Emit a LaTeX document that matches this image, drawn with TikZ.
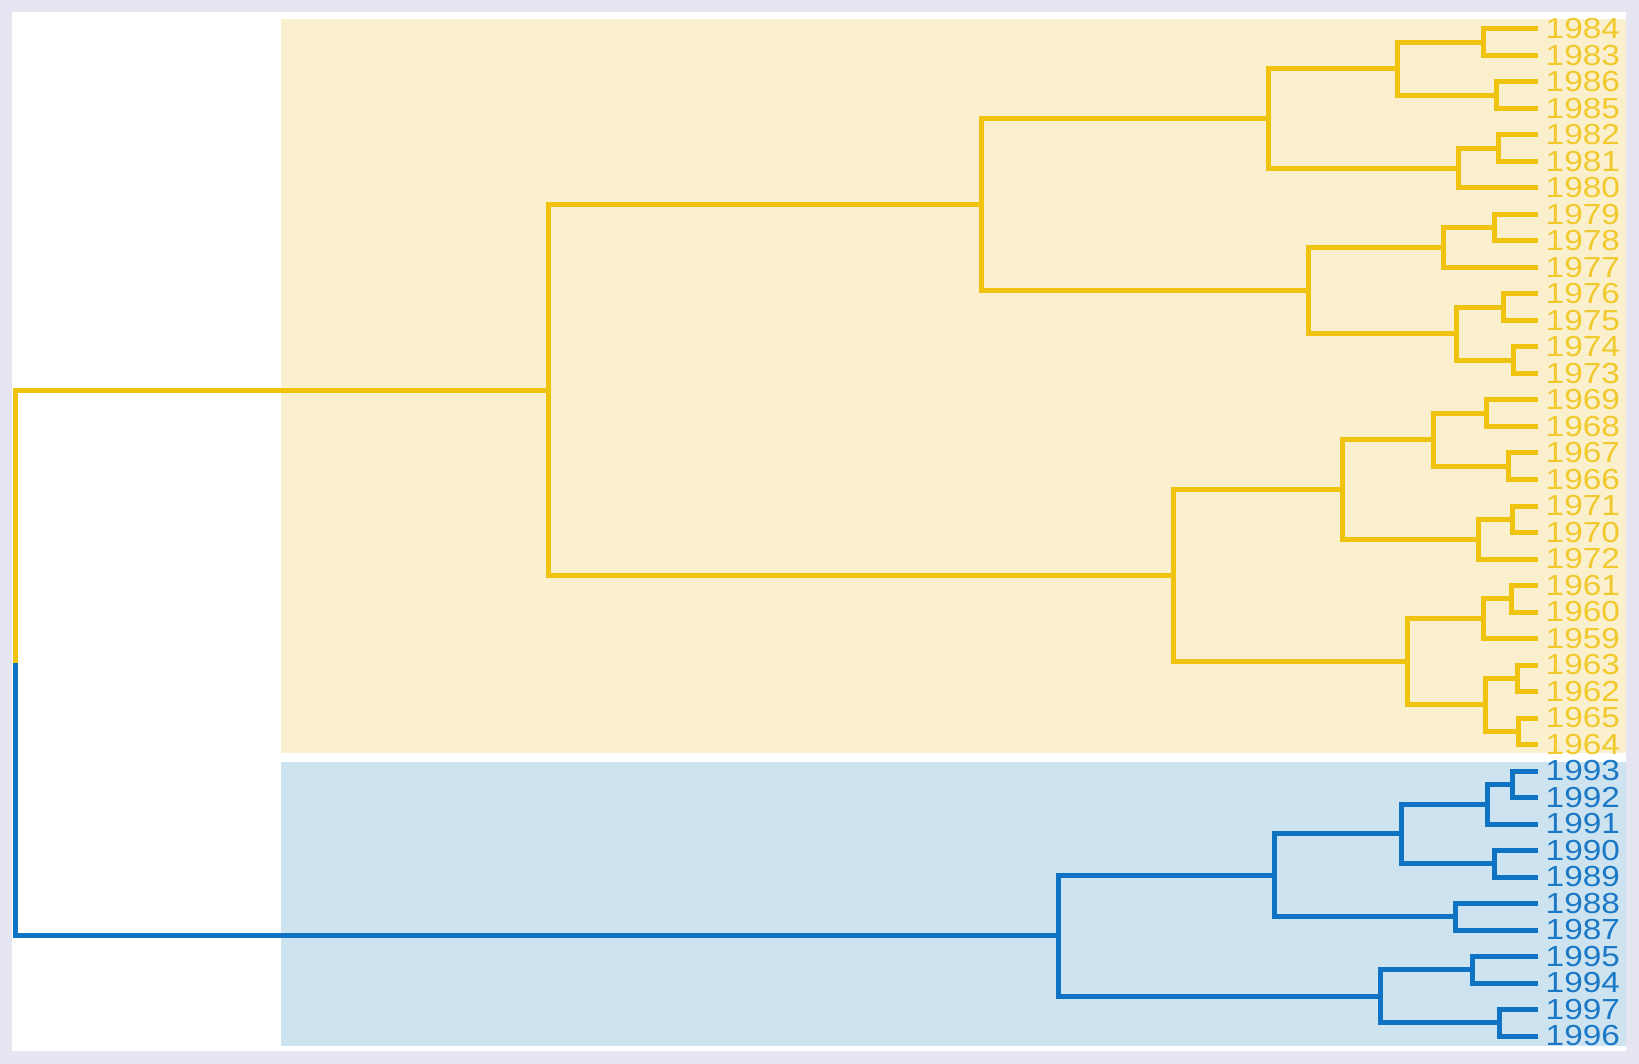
\documentclass[tikz,border=0pt]{standalone}
\usepackage{fontspec}
\usetikzlibrary{calc}
\newfontfamily\yearfont[FakeStretch=1.15]{Liberation Sans}

\definecolor{frame}{HTML}{E6E6F2}
\definecolor{bandY}{HTML}{FAF0CD}
\definecolor{bandB}{HTML}{CDE3F0}
\definecolor{treeY}{HTML}{F0C30F}
\definecolor{treeB}{HTML}{0F73C3}
\definecolor{textY}{HTML}{F2C92C}
\definecolor{textB}{HTML}{1A78C6}

\tikzset{
  branch/.style={line width=5pt, line join=miter},
  ybranch/.style={branch, treeY},
  bbranch/.style={branch, treeB},
  yearlabel/.style={anchor=west, inner sep=0pt, font=\yearfont\fontsize{29}{29}\selectfont},
}

% one U-shaped link: parent name, parent x, first child, second child, style
\newcommand\dlink[5]{%
  \coordinate (#1m) at ($(#3)!.5!(#4)$);
  \coordinate (#1) at (#1m -| #2,0);
  \draw[#5] (#3) -- (#3 -| #1) -- (#4 -| #1) -- (#4);
}

\begin{document}
\begin{tikzpicture}[x=1pt, y=-1pt]
  \useasboundingbox (0,0) rectangle (1639,1064);
  \fill[frame] (0,0) rectangle (1639,1064);
  \fill[white] (12,12) rectangle (1626,1051);
  \fill[bandY] (281,19) rectangle (1626,753);
  \fill[bandB] (281,762) rectangle (1626,1046);

  % leaves: line ends and labels
  \foreach \yr [count=\i from 0] in {1984,1983,1986,1985,1982,1981,1980,1979,1978,1977,1976,1975,1974,1973,1969,1968,1967,1966,1971,1970,1972,1961,1960,1959,1963,1962,1965,1964}{
    \coordinate (y\yr) at (1538, {29+26.5*\i});
    \node[yearlabel, text=textY] (t\yr) at (1545.5, {29+26.5*\i}) {\yr};
  }
  \foreach \yr [count=\i from 28] in {1993,1992,1991,1990,1989,1988,1987,1995,1994,1997,1996}{
    \coordinate (y\yr) at (1538, {29+26.5*\i});
    \node[yearlabel, text=textB] (t\yr) at (1545.5, {29+26.5*\i}) {\yr};
  }

  % first cluster
  \dlink{a1}{1483}{y1984}{y1983}{ybranch}
  \dlink{a2}{1496}{y1986}{y1985}{ybranch}
  \dlink{a3}{1397}{a1}{a2}{ybranch}
  \dlink{a4}{1498}{y1982}{y1981}{ybranch}
  \dlink{a5}{1458}{a4}{y1980}{ybranch}
  \dlink{a6}{1268}{a3}{a5}{ybranch}
  \dlink{a7}{1494}{y1979}{y1978}{ybranch}
  \dlink{a8}{1443}{a7}{y1977}{ybranch}
  \dlink{a9}{1503}{y1976}{y1975}{ybranch}
  \dlink{a10}{1513}{y1974}{y1973}{ybranch}
  \dlink{a11}{1456}{a9}{a10}{ybranch}
  \dlink{a12}{1308}{a8}{a11}{ybranch}
  \dlink{a13}{981}{a6}{a12}{ybranch}
  \dlink{b1}{1486}{y1969}{y1968}{ybranch}
  \dlink{b2}{1508}{y1967}{y1966}{ybranch}
  \dlink{b3}{1433}{b1}{b2}{ybranch}
  \dlink{b4}{1512}{y1971}{y1970}{ybranch}
  \dlink{b5}{1478}{b4}{y1972}{ybranch}
  \dlink{b6}{1342}{b3}{b5}{ybranch}
  \dlink{b7}{1511}{y1961}{y1960}{ybranch}
  \dlink{b8}{1483}{b7}{y1959}{ybranch}
  \dlink{b9}{1517}{y1963}{y1962}{ybranch}
  \dlink{b10}{1518}{y1965}{y1964}{ybranch}
  \dlink{b11}{1485}{b9}{b10}{ybranch}
  \dlink{b12}{1407}{b8}{b11}{ybranch}
  \dlink{b13}{1173}{b6}{b12}{ybranch}
  \dlink{ytop}{548}{a13}{b13}{ybranch}

  % second cluster
  \dlink{c1}{1512}{y1993}{y1992}{bbranch}
  \dlink{c2}{1487}{c1}{y1991}{bbranch}
  \dlink{c3}{1494}{y1990}{y1989}{bbranch}
  \dlink{c4}{1401}{c2}{c3}{bbranch}
  \dlink{c5}{1455}{y1988}{y1987}{bbranch}
  \dlink{c6}{1274}{c4}{c5}{bbranch}
  \dlink{c7}{1472}{y1995}{y1994}{bbranch}
  \dlink{c8}{1499}{y1997}{y1996}{bbranch}
  \dlink{c9}{1380}{c7}{c8}{bbranch}
  \dlink{btop}{1058}{c6}{c9}{bbranch}

  % root link, coloured half and half
  \coordinate (rootm) at ($(ytop)!.5!(btop)$);
  \coordinate (root) at (rootm -| 15,0);
  \draw[ybranch] (ytop) -- (ytop -| root) -- (root);
  \draw[bbranch] (root) -- (btop -| root) -- (btop);
\end{tikzpicture}
\end{document}
